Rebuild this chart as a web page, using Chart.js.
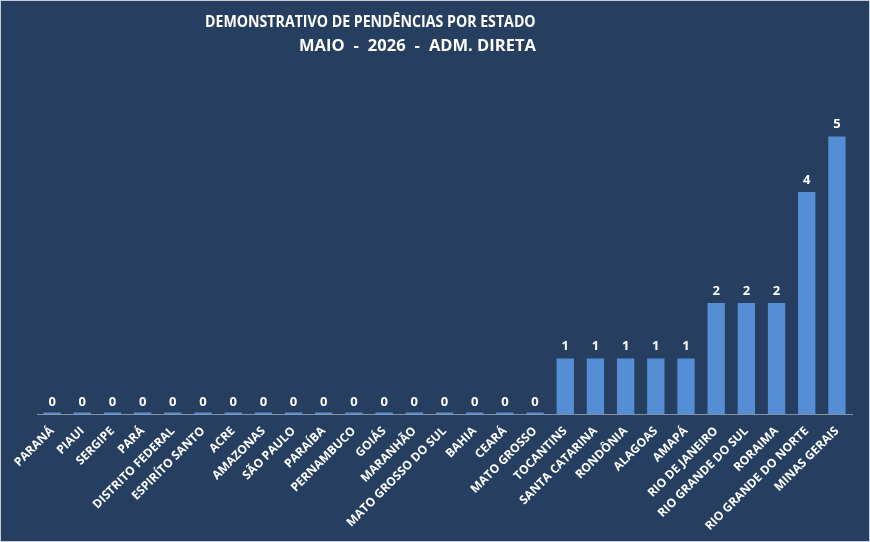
<!DOCTYPE html>
<html>
<head>
<meta charset="utf-8">
<script src="https://cdn.jsdelivr.net/npm/chart.js@4"></script>
<style>
  body { margin: 0; background: #fff; }
  .quadro {
    position: relative;
    width: 868px;
    height: 540px;
    background: #263e5f;
    border: 1px solid #c9cdd3;
  }
  .titulo {
    position: absolute;
    color: #fff;
    font-family: "Open Sans", sans-serif;
    font-weight: bold;
    font-size: 16px;
    white-space: nowrap;
    transform-origin: left top;
  }
  .titulo .h { margin: 0 9px; }
  canvas { position: absolute; left: -1px; top: -1px; }
</style>
</head>
<body>
<div class="quadro">
  <canvas id="grafico" width="870" height="542"></canvas>
  <div class="titulo" style="top: 9px; left: 204px; transform: scaleX(0.885);">DEMONSTRATIVO DE PENDÊNCIAS POR ESTADO</div>
  <div class="titulo" style="top: 32px; left: 298px; font-size: 16.5px;">MAIO<span class="h">-</span>2026<span class="h">-</span>ADM. DIRETA</div>
</div>
<script>
const estados = [
  "PARANÁ", "PIAUI", "SERGIPE", "PARÁ", "DISTRITO FEDERAL", "ESPIRÍTO SANTO",
  "ACRE", "AMAZONAS", "SÃO PAULO", "PARAÍBA", "PERNAMBUCO", "GOIÁS",
  "MARANHÃO", "MATO GROSSO DO SUL", "BAHIA", "CEARÁ", "MATO GROSSO",
  "TOCANTINS", "SANTA CATARINA", "RONDÔNIA", "ALAGOAS", "AMAPÁ",
  "RIO DE JANEIRO", "RIO GRANDE DO SUL", "RORAIMA", "RIO GRANDE DO NORTE", "MINAS GERAIS"
];
const pendencias = [0, 0, 0, 0, 0, 0, 0, 0, 0, 0, 0, 0, 0, 0, 0, 0, 0, 1, 1, 1, 1, 1, 2, 2, 2, 4, 5];

// rótulos de valor acima das barras
const rotulosValor = {
  id: "rotulosValor",
  afterDatasetsDraw(chart) {
    const ctx = chart.ctx;
    const meta = chart.getDatasetMeta(0);
    const base = chart.scales.y.getPixelForValue(0);
    ctx.save();
    ctx.fillStyle = "#ffffff";
    ctx.font = "bold 13px 'Open Sans'";
    ctx.textAlign = "center";
    ctx.textBaseline = "middle";
    meta.data.forEach((barra, i) => {
      const topo = pendencias[i] === 0 ? base : barra.y;
      ctx.fillText(pendencias[i], barra.x, topo - 12);
    });
    ctx.restore();
  }
};

const ctx = document.getElementById("grafico").getContext("2d");
new Chart(ctx, {
  type: "bar",
  data: {
    labels: estados,
    datasets: [{
      data: pendencias,
      backgroundColor: "#558ed5",
      categoryPercentage: 1,
      barPercentage: 0.575,
      minBarLength: 1.5
    }]
  },
  options: {
    responsive: false,
    animation: false,
    layout: { padding: { left: 37, right: 18, top: 81, bottom: 0 } },
    plugins: {
      legend: { display: false },
      tooltip: { enabled: false }
    },
    scales: {
      x: {
        grid: { display: false },
        border: { display: true, color: "#8593a6", width: 1 },
        ticks: {
          color: "#ffffff",
          autoSkip: false,
          minRotation: 45,
          maxRotation: 45,
          padding: 2,
          font: { family: "Open Sans", weight: "bold", size: 12 }
        },
        afterFit: (escala) => { escala.height = 128; }
      },
      y: {
        display: false,
        min: 0,
        max: 6
      }
    }
  },
  plugins: [rotulosValor]
});
</script>
</body>
</html>
